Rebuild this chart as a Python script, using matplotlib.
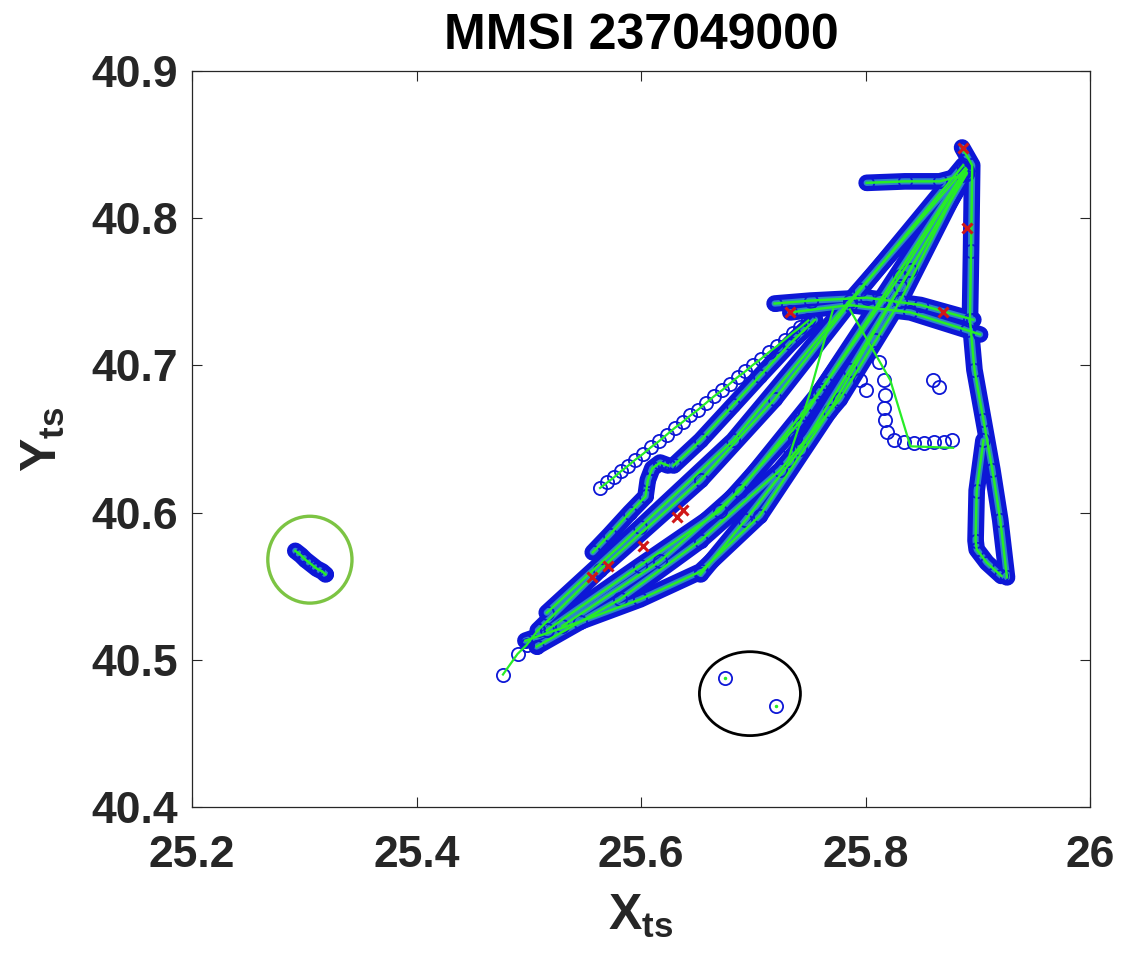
"""Vessel track plot for one MMSI: AIS fixes (blue circles) joined by the
reconstructed trajectory (green), with suspect fixes marked in red and two
outlier groups ringed."""
import matplotlib
matplotlib.use("Agg")
import matplotlib.pyplot as plt
from matplotlib.patches import Ellipse

BLUE = "#0d17d6"
GREEN = "#27ec27"
RED = "#d01818"

# --- dense track segments (lon, lat) ---
bar_x = [25.801, 25.835, 25.866, 25.886]
bar_y = [40.824, 40.825, 40.825, 40.829]

fan1_x = [25.516, 25.599, 25.682, 25.786, 25.889]
fan1_y = [40.532, 40.590, 40.649, 40.744, 40.834]

fan2_x = [25.508, 25.563, 25.653, 25.719, 25.795, 25.887]
fan2_y = [40.520, 40.561, 40.622, 40.677, 40.751, 40.836]

fan3_x = [25.507, 25.581, 25.653, 25.724, 25.777, 25.831, 25.890]
fan3_y = [40.509, 40.541, 40.581, 40.629, 40.677, 40.744, 40.833]

fan4_x = [25.653, 25.693, 25.742, 25.786, 25.840, 25.890]
fan4_y = [40.558, 40.595, 40.643, 40.697, 40.765, 40.831]

fan5_x = [25.497, 25.546, 25.599, 25.653, 25.706, 25.768, 25.831, 25.890]
fan5_y = [40.513, 40.526, 40.541, 40.560, 40.598, 40.669, 40.754, 40.830]

fan6_x = [25.516, 25.599, 25.670, 25.742, 25.813, 25.889]
fan6_y = [40.520, 40.564, 40.601, 40.662, 40.744, 40.833]

fan7_x = [25.530, 25.617, 25.688, 25.760, 25.831, 25.889]
fan7_y = [40.523, 40.567, 40.615, 40.683, 40.761, 40.832]

hook_x = [25.557, 25.572, 25.590, 25.604, 25.606, 25.610, 25.617, 25.624]
hook_y = [40.573, 40.585, 40.600, 40.611, 40.622, 40.630, 40.634, 40.632]

upper_x = [25.629, 25.653, 25.682, 25.706, 25.733, 25.755]
upper_y = [40.632, 40.649, 40.673, 40.693, 40.715, 40.731]

cross1_x = [25.719, 25.751, 25.801, 25.849, 25.896]
cross1_y = [40.742, 40.744, 40.746, 40.741, 40.731]

cross2_x = [25.733, 25.786, 25.840, 25.890, 25.902]
cross2_y = [40.736, 40.741, 40.736, 40.724, 40.721]

leg1_x = [25.886, 25.895, 25.894, 25.893, 25.897, 25.905, 25.913, 25.920, 25.926]
leg1_y = [40.848, 40.836, 40.778, 40.731, 40.697, 40.663, 40.629, 40.595, 40.556]

leg2_x = [25.905, 25.899, 25.898, 25.899, 25.908, 25.921]
leg2_y = [40.649, 40.615, 40.581, 40.575, 40.566, 40.557]

# --- sparse segments ---
chain_x = [25.5635, 25.5700, 25.5760, 25.5820, 25.5880, 25.5950, 25.6020,
           25.6090, 25.6160, 25.6230, 25.6300, 25.6370, 25.6440, 25.6510,
           25.6580, 25.6650, 25.6720, 25.6790, 25.6860, 25.6930, 25.7000,
           25.7070, 25.7140, 25.7210, 25.7280, 25.7350, 25.7420, 25.7490]
chain_y = [40.6167, 40.6205, 40.6240, 40.6280, 40.6315, 40.6360, 40.6400,
           40.6445, 40.6485, 40.6530, 40.6575, 40.6615, 40.6660, 40.6700,
           40.6745, 40.6790, 40.6830, 40.6875, 40.6920, 40.6960, 40.7005,
           40.7045, 40.7090, 40.7130, 40.7175, 40.7220, 40.7260, 40.7305]

lead_x = [25.477, 25.490, 25.498, 25.508]
lead_y = [40.490, 40.504, 40.510, 40.520]

drift_x = [25.808, 25.812, 25.816, 25.817, 25.816, 25.817, 25.819,
           25.825, 25.834, 25.843, 25.852, 25.861, 25.870, 25.877]
drift_y = [40.717, 40.702, 40.690, 40.680, 40.671, 40.663, 40.655,
           40.649, 40.648, 40.647, 40.647, 40.648, 40.648, 40.649]
drift_line_x = [25.786, 25.822, 25.840, 25.878]
drift_line_y = [40.738, 40.690, 40.645, 40.644]

mid_x = [25.731, 25.733, 25.737, 25.742, 25.746, 25.751, 25.758, 25.764]
mid_y = [40.636, 40.643, 40.651, 40.659, 40.667, 40.674, 40.681, 40.688]
mid_line_x = [25.771, 25.750, 25.731]
mid_line_y = [40.738, 40.680, 40.636]

loose_x = [25.860, 25.865, 25.795, 25.800]
loose_y = [40.690, 40.685, 40.690, 40.683]

# isolated fixes
island_x = [25.292, 25.297, 25.301, 25.306, 25.311, 25.316, 25.319]
island_y = [40.574, 40.571, 40.568, 40.565, 40.562, 40.560, 40.558]

stray_x = [25.675, 25.720]
stray_y = [40.4876, 40.4686]

# suspect fixes
flag_x = [25.556, 25.571, 25.632, 25.637, 25.602, 25.887, 25.890, 25.733, 25.869]
flag_y = [40.556, 40.564, 40.597, 40.602, 40.577, 40.848, 40.793, 40.736, 40.736]

x_ticks = [25.2, 25.4, 25.6, 25.8, 26]
x_tick_labels = ["25.2", "25.4", "25.6", "25.8", "26"]
y_ticks = [40.4, 40.5, 40.6, 40.7, 40.8, 40.9]
y_tick_labels = ["40.4", "40.5", "40.6", "40.7", "40.8", "40.9"]

plt.rcParams["font.family"] = ["Liberation Sans", "DejaVu Sans"]
plt.rcParams["font.weight"] = "bold"
plt.rcParams["mathtext.fontset"] = "custom"
plt.rcParams["mathtext.rm"] = "Liberation Sans:bold"
plt.rcParams["mathtext.it"] = "Liberation Sans:bold"
plt.rcParams["mathtext.bf"] = "Liberation Sans:bold"

MARKER = dict(mfc="none", mec=BLUE, ms=9.5, mew=1.3)


def dense_track(ax, xs, ys):
    """Heavily sampled segment: overlapping markers read as a solid band."""
    ax.plot(xs, ys, color=BLUE, lw=12, solid_capstyle="round",
            solid_joinstyle="round", zorder=2)
    ax.plot(xs, ys, color="#2f86c8", lw=4.5, solid_capstyle="round", zorder=3)
    ax.plot(xs, ys, "o", zorder=4, **MARKER)
    ax.plot(xs, ys, color=GREEN, lw=1.8, zorder=5)


def sparse_track(ax, xs, ys, line=True):
    ax.plot(xs, ys, "o", zorder=4, **MARKER)
    if line:
        ax.plot(xs, ys, color=GREEN, lw=1.6, zorder=5)


fig = plt.figure(figsize=(11.21, 9.59), dpi=100)
ax = fig.add_axes([0.1713, 0.1585, 0.8011, 0.7675])

for xs, ys in [(fan5_x, fan5_y), (fan4_x, fan4_y), (fan7_x, fan7_y),
               (fan6_x, fan6_y), (fan3_x, fan3_y), (fan2_x, fan2_y),
               (fan1_x, fan1_y), (hook_x, hook_y), (upper_x, upper_y),
               (cross1_x, cross1_y), (cross2_x, cross2_y),
               (leg1_x, leg1_y), (leg2_x, leg2_y), (bar_x, bar_y),
               (island_x, island_y)]:
    dense_track(ax, xs, ys)

sparse_track(ax, chain_x, chain_y)
sparse_track(ax, lead_x, lead_y)
sparse_track(ax, drift_x, drift_y, line=False)
ax.plot(drift_line_x, drift_line_y, color=GREEN, lw=1.6, zorder=5)
sparse_track(ax, mid_x, mid_y, line=False)
ax.plot(mid_line_x, mid_line_y, color=GREEN, lw=1.6, zorder=5)
sparse_track(ax, loose_x, loose_y, line=False)
sparse_track(ax, stray_x, stray_y, line=False)
ax.plot(stray_x, stray_y, ".", color=GREEN, ms=3, zorder=5)

ax.plot(flag_x, flag_y, "x", color=RED, ms=7, mew=2.2, zorder=6)

# outlier groups
ax.add_patch(Ellipse((25.305, 40.568), 0.075, 0.059, fill=False,
                     ec="#7cc443", lw=2.4, zorder=7))
ax.add_patch(Ellipse((25.697, 40.477), 0.090, 0.057, fill=False,
                     ec="black", lw=2.0, zorder=7))

ax.set_xlim(25.2, 26)
ax.set_ylim(40.4, 40.9)
ax.set_xticks(x_ticks)
ax.set_xticklabels(x_tick_labels)
ax.set_yticks(y_ticks)
ax.set_yticklabels(y_tick_labels)
ax.tick_params(direction="in", length=7, width=0.8, colors="#262626",
               labelsize=32, top=True, right=True)
ax.tick_params(axis="x", pad=20)
ax.tick_params(axis="y", pad=10)
for spine in ax.spines.values():
    spine.set_color("#262626")
    spine.set_linewidth(0.9)

ax.set_title("MMSI 237049000", fontsize=36, fontweight="bold", pad=16)
ax.set_xlabel(r"$\mathrm{X}_{\mathrm{ts}}$", fontsize=36, color="#262626", labelpad=12)
ax.set_ylabel(r"$\mathrm{Y}_{\mathrm{ts}}$", fontsize=36, color="#262626", labelpad=18)

fig.savefig("out.png", dpi=100)
